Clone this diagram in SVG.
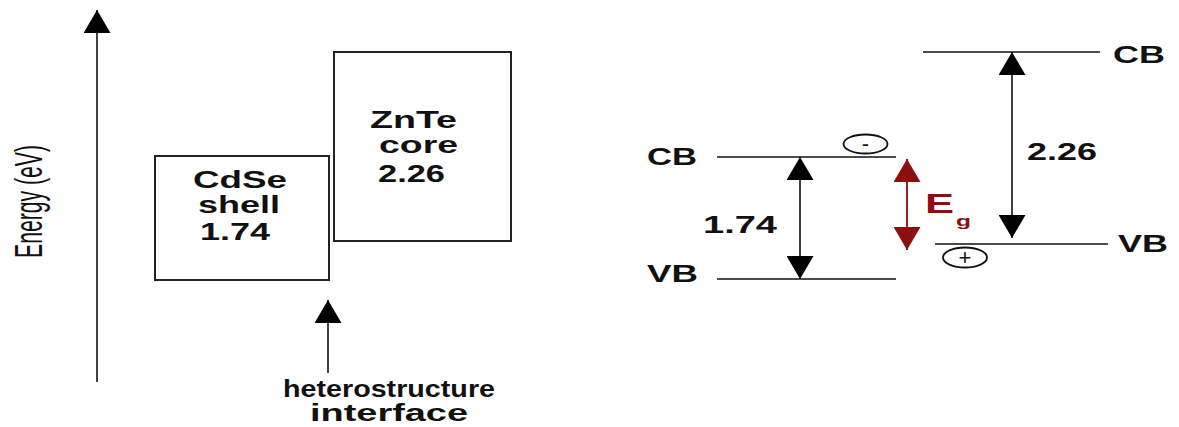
<svg xmlns="http://www.w3.org/2000/svg" width="1179" height="427" viewBox="0 0 1179 427">
<style>
.t{font-family:"Liberation Sans",Arial,sans-serif;font-weight:bold;font-size:23px;fill:#111}
.box{fill:#fff;stroke:#222;stroke-width:2}
.ln{stroke:#111;stroke-width:1.6;fill:none}
.rl{stroke:#7d0b0b;stroke-width:1.8;fill:none}
.circ{fill:none;stroke:#111;stroke-width:1.8}
.sg{font-family:"Liberation Sans",Arial,sans-serif;font-size:22px;fill:#111}
</style>
<defs>
<marker id="ah" viewBox="0 0 23 27" refX="23" refY="13.5" markerWidth="23" markerHeight="27" markerUnits="userSpaceOnUse" orient="auto-start-reverse">
<path d="M0,0 L23,13.5 L0,27 z" fill="#000"/>
</marker>
<marker id="ahr" viewBox="0 0 23 27" refX="23" refY="13.5" markerWidth="23" markerHeight="27" markerUnits="userSpaceOnUse" orient="auto-start-reverse">
<path d="M0,0 L23,13.5 L0,27 z" fill="#8b1111"/>
</marker>
</defs>
<rect width="1179" height="427" fill="#fff"/>

<g id="energy-axis">
<text transform="translate(42,258) scale(1.75,1) rotate(-90)" x="0" y="0" font-family="Liberation Sans, Arial, sans-serif" font-size="22" fill="#111" textLength="113" lengthAdjust="spacingAndGlyphs">Energy (eV)</text>
</g>

<g id="cdse-shell">
<rect class="box" x="155" y="156" width="174" height="124"/>
<text class="t" x="193" y="188" textLength="94" lengthAdjust="spacingAndGlyphs">CdSe</text>
<text class="t" x="198" y="213" textLength="82" lengthAdjust="spacingAndGlyphs">shell</text>
<text class="t" x="200" y="240" textLength="70" lengthAdjust="spacingAndGlyphs">1.74</text>
</g>

<g id="znte-core">
<rect class="box" x="334" y="52" width="177" height="189"/>
<text class="t" x="370" y="128" textLength="87" lengthAdjust="spacingAndGlyphs">ZnTe</text>
<text class="t" x="379" y="153" textLength="79" lengthAdjust="spacingAndGlyphs">core</text>
<text class="t" x="378" y="182" textLength="67" lengthAdjust="spacingAndGlyphs">2.26</text>
</g>

<g id="interface-label">
<text class="t" x="283" y="397" font-size="22" textLength="212" lengthAdjust="spacingAndGlyphs">heterostructure</text>
<text class="t" x="310" y="421" font-size="22" textLength="158" lengthAdjust="spacingAndGlyphs">interface</text>
</g>

<g id="shell-levels">
<line class="ln" x1="717" y1="157" x2="896" y2="157"/>
<line class="ln" x1="717" y1="279" x2="896" y2="279"/>
<text class="t" x="647" y="165" textLength="50" lengthAdjust="spacingAndGlyphs">CB</text>
<text class="t" x="647" y="282" textLength="51" lengthAdjust="spacingAndGlyphs">VB</text>
<text class="t" x="703" y="233" textLength="74" lengthAdjust="spacingAndGlyphs">1.74</text>
</g>

<g id="core-levels">
<line class="ln" x1="923" y1="52" x2="1100" y2="52"/>
<line class="ln" x1="935" y1="244" x2="1108" y2="244"/>
<text class="t" x="1113" y="63" textLength="52" lengthAdjust="spacingAndGlyphs">CB</text>
<text class="t" x="1118" y="252" textLength="50" lengthAdjust="spacingAndGlyphs">VB</text>
<text class="t" x="1027" y="160" textLength="70" lengthAdjust="spacingAndGlyphs">2.26</text>
</g>

<g id="electron">
<ellipse class="circ" cx="865.5" cy="144" rx="22" ry="9.5"/>
<text class="sg" x="865.5" y="151" text-anchor="middle">-</text>
</g>

<g id="hole">
<ellipse class="circ" cx="965" cy="257.5" rx="22" ry="10"/>
<text class="sg" x="965" y="265" text-anchor="middle">+</text>
</g>

<g id="eg-label">
<text x="925" y="213" font-family="Liberation Sans, Arial, sans-serif" font-weight="bold" font-size="28" fill="#8b1111" textLength="29" lengthAdjust="spacingAndGlyphs">E</text>
<text x="956" y="226" font-family="Liberation Sans, Arial, sans-serif" font-weight="bold" font-size="15" fill="#8b1111" textLength="15" lengthAdjust="spacingAndGlyphs">g</text>
</g>

<g id="connectors">
<line class="ln" x1="97" y1="382" x2="97" y2="10" marker-end="url(#ah)"/>
<line class="ln" x1="328" y1="373" x2="328" y2="300" marker-end="url(#ah)"/>
<line class="ln" x1="800" y1="157" x2="800" y2="279" marker-start="url(#ah)" marker-end="url(#ah)"/>
<line class="ln" x1="1012" y1="52" x2="1012" y2="238" marker-start="url(#ah)" marker-end="url(#ah)"/>
<line class="rl" x1="907" y1="159" x2="907" y2="250" marker-start="url(#ahr)" marker-end="url(#ahr)"/>
</g>
</svg>
